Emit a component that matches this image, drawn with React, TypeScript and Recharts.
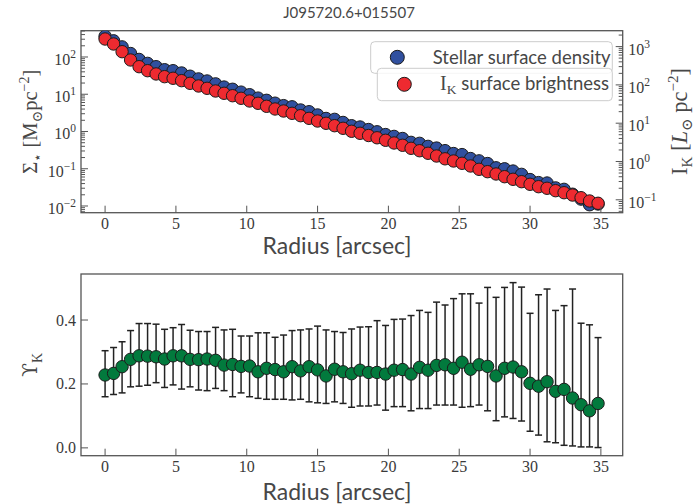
import React from 'react';
import { ScatterChart, Scatter, XAxis, YAxis, ErrorBar, Customized } from 'recharts';

// Radial samples (arcsec)
const radius = [0, 0.6, 1.2, 1.8, 2.4, 3, 3.6, 4.2, 4.8, 5.4, 6, 6.6, 7.2, 7.8, 8.4, 9, 9.6, 10.2, 10.8, 11.4, 12, 12.6, 13.2, 13.8, 14.4, 15, 15.6, 16.2, 16.8, 17.4, 18, 18.6, 19.2, 19.8, 20.4, 21, 21.6, 22.2, 22.8, 23.4, 24, 24.6, 25.2, 25.8, 26.4, 27, 27.6, 28.2, 28.8, 29.4, 30, 30.6, 31.2, 31.8, 32.4, 33, 33.6, 34.2, 34.8];

// Stellar surface density, M_sun pc^-2
const stellarDensity = [360, 272, 187, 124, 86.1, 67.4, 55.0, 45.6, 42.9, 37.2, 30.5, 25.8, 22.7, 19.0, 15.6, 13.6, 11.4, 9.73, 7.88, 6.87, 5.76, 4.95, 4.60, 3.78, 3.40, 2.78, 2.24, 2.12, 1.75, 1.43, 1.32, 1.13, 0.982, 0.827, 0.739, 0.649, 0.511, 0.481, 0.399, 0.359, 0.306, 0.256, 0.240, 0.188, 0.163, 0.138, 0.106, 0.0998, 0.0868, 0.0707, 0.0513, 0.0425, 0.0414, 0.0306, 0.0280, 0.0207, 0.0153, 0.0108, 0.0113];

// K-band surface brightness, L_sun pc^-2
const ikBrightness = [1578, 1169, 736, 447, 299, 235, 193, 164, 149, 129, 110, 93.6, 81.5, 69.3, 60.4, 52.2, 44.7, 38.0, 33.1, 27.6, 23.5, 20.8, 18.1, 15.7, 13.4, 11.4, 9.94, 8.60, 7.36, 6.15, 5.45, 4.77, 4.16, 3.58, 3.04, 2.65, 2.21, 1.91, 1.64, 1.39, 1.175, 1.03, 0.897, 0.763, 0.625, 0.542, 0.472, 0.401, 0.343, 0.297, 0.254, 0.220, 0.200, 0.173, 0.153, 0.133, 0.1135, 0.0931, 0.0811];

// Mass-to-light ratio and its lower / upper bounds
const upsilonK = [0.228, 0.233, 0.254, 0.277, 0.288, 0.287, 0.285, 0.278, 0.288, 0.288, 0.277, 0.276, 0.278, 0.274, 0.259, 0.261, 0.255, 0.256, 0.238, 0.249, 0.245, 0.238, 0.254, 0.241, 0.254, 0.244, 0.225, 0.246, 0.238, 0.232, 0.243, 0.236, 0.236, 0.231, 0.243, 0.245, 0.231, 0.252, 0.243, 0.258, 0.260, 0.249, 0.268, 0.246, 0.260, 0.255, 0.225, 0.249, 0.253, 0.238, 0.202, 0.193, 0.207, 0.177, 0.183, 0.156, 0.135, 0.116, 0.139];
const upsilonUpper = [0.304, 0.314, 0.332, 0.367, 0.389, 0.389, 0.387, 0.371, 0.376, 0.386, 0.368, 0.364, 0.364, 0.377, 0.369, 0.371, 0.350, 0.350, 0.360, 0.360, 0.346, 0.353, 0.367, 0.369, 0.372, 0.381, 0.369, 0.364, 0.361, 0.372, 0.378, 0.379, 0.398, 0.383, 0.402, 0.403, 0.414, 0.430, 0.424, 0.456, 0.447, 0.467, 0.482, 0.482, 0.453, 0.502, 0.471, 0.502, 0.517, 0.503, 0.421, 0.479, 0.497, 0.430, 0.445, 0.497, 0.390, 0.385, 0.345];
const upsilonLower = [0.160, 0.167, 0.172, 0.191, 0.193, 0.196, 0.204, 0.189, 0.197, 0.184, 0.191, 0.181, 0.179, 0.186, 0.179, 0.160, 0.172, 0.160, 0.155, 0.152, 0.152, 0.152, 0.150, 0.152, 0.144, 0.141, 0.139, 0.144, 0.139, 0.127, 0.131, 0.131, 0.134, 0.118, 0.129, 0.129, 0.116, 0.123, 0.123, 0.134, 0.134, 0.134, 0.127, 0.129, 0.134, 0.116, 0.085, 0.097, 0.092, 0.084, 0.052, 0.040, 0.019, 0.016, 0.008, 0.006, 0.003, 0.003, 0.001];

// Axis ticks
const radiusTicks = [0, 5, 10, 15, 20, 25, 30, 35];
const upsilonTicks = [0, 0.2, 0.4];
const upsilonTickLabels = ['0.0', '0.2', '0.4'];

const TITLE = 'J095720.6+015507';
const X_LABEL = 'Radius [arcsec]';

// Styling
const BLUE = '#30509f';
const RED = '#ee2a30';
const GREEN = '#027a3d';
const EDGE = '#1c1c1c';
const SPINE = '#555555';
const TEXT = '#3a3a3a';
const LABEL = '#474747';
const SERIF = "'Liberation Serif', 'DejaVu Serif', serif";
const SANS = "Lato, 'DejaVu Sans', sans-serif";

// Layout of the two panels
const W = 699;
const TOP_H = 260;
const BOT_H = 244;
const PLOT_L = 81;
const PLOT_R = 622.7;
const TOP_T = 30.7;
const TOP_B = 212.7;
const BOT_T = 14;
const BOT_B = 195.7;

const X_DOMAIN: [number, number] = [-1.7, 36.54];
const LEFT_DOMAIN: [number, number] = [Math.pow(10, -2.18), Math.pow(10, 2.706)];
const RIGHT_DOMAIN: [number, number] = [Math.pow(10, -1.337), Math.pow(10, 3.415)];
const UPS_DOMAIN: [number, number] = [-0.0245, 0.544];

function logTicks(domain: [number, number]) {
  const out: number[] = [];
  const e0 = Math.floor(Math.log10(domain[0]));
  const e1 = Math.ceil(Math.log10(domain[1]));
  for (let e = e0; e <= e1; e++) {
    for (let m = 1; m <= 9; m++) {
      const v = parseFloat((m * Math.pow(10, e)).toPrecision(6));
      if (v >= domain[0] && v <= domain[1]) out.push(v);
    }
  }
  return out;
}

const sigmaData = radius.map((r, i) => ({ r, v: stellarDensity[i] }));
const ikData = radius.map((r, i) => ({ r, v: ikBrightness[i] }));
const upsData = radius.map((r, i) => ({
  r,
  v: upsilonK[i],
  err: [upsilonK[i] - upsilonLower[i], upsilonUpper[i] - upsilonK[i]],
}));

const exponentLabel = (v: number) => {
  const e = Math.round(Math.log10(v));
  return e < 0 ? '\u2212' + Math.abs(e) : String(e);
};

const isDecade = (v: number) => Math.abs(Math.log10(v) - Math.round(Math.log10(v))) < 1e-6;

const PowerLabel = ({ x, y, anchor, v }: any) => (
  <text x={x} y={y} textAnchor={anchor} fontFamily={SERIF} fontSize={16} fill={TEXT}>
    10
    <tspan dy={-7} fontSize={11.5}>{exponentLabel(v)}</tspan>
  </text>
);

const LeftLogTick = (props: any) => {
  const { x, y, payload } = props;
  const major = isDecade(payload.value);
  return (
    <g>
      <line x1={x} y1={y} x2={x + (major ? 7 : 4)} y2={y} stroke={SPINE} strokeWidth={1} />
      {major && <PowerLabel x={x - 5} y={y + 8} anchor="end" v={payload.value} />}
    </g>
  );
};

const RightLogTick = (props: any) => {
  const { x, y, payload } = props;
  const major = isDecade(payload.value);
  return (
    <g>
      <line x1={x} y1={y} x2={x - (major ? 7 : 4)} y2={y} stroke={SPINE} strokeWidth={1} />
      {major && <PowerLabel x={x + 5.5} y={y + 8} anchor="start" v={payload.value} />}
    </g>
  );
};

const BottomTick = (props: any) => {
  const { x, y, payload } = props;
  return (
    <g>
      <line x1={x} y1={y} x2={x} y2={y - 7} stroke={SPINE} strokeWidth={1} />
      <text x={x} y={y + 16} textAnchor="middle" fontFamily={SERIF} fontSize={16} fill={TEXT}>
        {payload.value}
      </text>
    </g>
  );
};

const UpsTick = (props: any) => {
  const { x, y, payload, index } = props;
  return (
    <g>
      <line x1={x} y1={y} x2={x + 7} y2={y} stroke={SPINE} strokeWidth={1} />
      <text x={x - 5} y={y + 5.5} textAnchor="end" fontFamily={SERIF} fontSize={16} fill={TEXT}>
        {upsilonTickLabels[index] ?? payload.value}
      </text>
    </g>
  );
};

const dot = (fill: string) => (p: any) => (
  <circle cx={p.cx} cy={p.cy} r={6.2} fill={fill} stroke={EDGE} strokeWidth={1} />
);

const TopDecor = () => (
  <g>
    <rect x={PLOT_L} y={TOP_T} width={PLOT_R - PLOT_L} height={TOP_B - TOP_T} fill="none" stroke={SPINE} strokeWidth={1.3} />
    <text x={349} y={17.5} textAnchor="middle" fontFamily={SANS} fontSize={15} fill={LABEL}>{TITLE}</text>
    <text x={337} y={254} textAnchor="middle" fontFamily={SANS} fontSize={23} fill={LABEL}>{X_LABEL}</text>
    <text transform="translate(37,121.7) rotate(-90)" textAnchor="middle" fontFamily={SERIF} fontSize={20.5} fill={LABEL}>
      {'\u03A3'}
      <tspan dy={4.5} fontSize={14}>{'\u22C6'}</tspan>
      <tspan dy={-4.5}>{' [M'}</tspan>
      <tspan dy={4.5} fontSize={14}>{'\u2299'}</tspan>
      <tspan dy={-4.5}>pc</tspan>
      <tspan dy={-8} fontSize={14}>{'\u22122'}</tspan>
      <tspan dy={8}>]</tspan>
    </text>
    <text transform="translate(687,121.5) rotate(-90)" textAnchor="middle" fontFamily={SERIF} fontSize={22.5} fill={LABEL}>
      I
      <tspan dy={5} fontSize={15}>K</tspan>
      <tspan dy={-5}>{' ['}</tspan>
      <tspan fontStyle="italic">L</tspan>
      <tspan dy={5} fontSize={15}>{'\u2299'}</tspan>
      <tspan dy={-5}>{' pc'}</tspan>
      <tspan dy={-9} fontSize={15}>{'\u22122'}</tspan>
      <tspan dy={9}>]</tspan>
    </text>
    {/* legend of the left axis */}
    <rect x={370.7} y={41.7} width={241.6} height={31.6} rx={4} fill="#ffffff" fillOpacity={0.8} stroke="#cccccc" strokeWidth={1} />
    <circle cx={397.3} cy={57.3} r={7} fill={BLUE} stroke={EDGE} strokeWidth={1} />
    <text x={432.7} y={63.5} fontFamily={SANS} fontSize={18.5} fill={LABEL}>Stellar surface density</text>
    {/* legend of the right axis */}
    <rect x={377.3} y={68.3} width={235} height={32.4} rx={4} fill="#ffffff" fillOpacity={0.8} stroke="#cccccc" strokeWidth={1} />
    <circle cx={404.3} cy={84.3} r={7} fill={RED} stroke={EDGE} strokeWidth={1} />
    <text x={440} y={90} fontFamily={SERIF} fontSize={20} fill={LABEL}>
      I
      <tspan dy={3.5} fontSize={13.5}>K</tspan>
      <tspan dy={-3.5} fontFamily={SANS} fontSize={18.5}>{' surface brightness'}</tspan>
    </text>
  </g>
);

const BottomDecor = () => (
  <g>
    <rect x={PLOT_L} y={BOT_T} width={PLOT_R - PLOT_L} height={BOT_B - BOT_T} fill="none" stroke={SPINE} strokeWidth={1.3} />
    <text x={337} y={239.5} textAnchor="middle" fontFamily={SANS} fontSize={23} fill={LABEL}>{X_LABEL}</text>
    <text transform={`translate(37,${(BOT_T + BOT_B) / 2}) rotate(-90)`} textAnchor="middle" fontFamily={SERIF} fontSize={22} fill={LABEL}>
      <tspan fontFamily="'DejaVu Serif', serif" fontSize={20}>{'\u03D2'}</tspan>
      <tspan dy={5} fontSize={14}>K</tspan>
    </text>
  </g>
);

export default function App() {
  return (
    <div style={{ position: 'absolute', left: 0, top: 0, width: W, height: TOP_H + BOT_H, background: '#fff' }}>
      <div style={{ position: 'absolute', left: 0, top: 0 }}>
        <ScatterChart width={W} height={TOP_H} margin={{ top: TOP_T, right: 0, bottom: 0, left: 0 }}>
          <XAxis
            type="number"
            dataKey="r"
            domain={X_DOMAIN}
            ticks={radiusTicks}
            allowDataOverflow
            interval={0}
            height={TOP_H - TOP_B}
            axisLine={false}
            tickLine={false}
            tickSize={0}
            tickMargin={0}
            tick={<BottomTick />}
          />
          <YAxis
            yAxisId="left"
            orientation="left"
            type="number"
            dataKey="v"
            scale="log"
            domain={LEFT_DOMAIN}
            ticks={logTicks(LEFT_DOMAIN)}
            allowDataOverflow
            interval={0}
            width={PLOT_L}
            axisLine={false}
            tickLine={false}
            tickSize={0}
            tickMargin={0}
            tick={<LeftLogTick />}
          />
          <YAxis
            yAxisId="right"
            orientation="right"
            type="number"
            dataKey="v"
            scale="log"
            domain={RIGHT_DOMAIN}
            ticks={logTicks(RIGHT_DOMAIN)}
            allowDataOverflow
            interval={0}
            width={W - PLOT_R}
            axisLine={false}
            tickLine={false}
            tickSize={0}
            tickMargin={0}
            tick={<RightLogTick />}
          />
          <Scatter yAxisId="left" data={sigmaData} dataKey="v" fill={BLUE} shape={dot(BLUE)} isAnimationActive={false} />
          <Scatter yAxisId="right" data={ikData} dataKey="v" fill={RED} shape={dot(RED)} isAnimationActive={false} />
          <Customized component={<TopDecor />} />
        </ScatterChart>
      </div>
      <div style={{ position: 'absolute', left: 0, top: TOP_H }}>
        <ScatterChart width={W} height={BOT_H} margin={{ top: BOT_T, right: W - PLOT_R, bottom: 0, left: 0 }}>
          <XAxis
            type="number"
            dataKey="r"
            domain={X_DOMAIN}
            ticks={radiusTicks}
            allowDataOverflow
            interval={0}
            height={BOT_H - BOT_B}
            axisLine={false}
            tickLine={false}
            tickSize={0}
            tickMargin={0}
            tick={<BottomTick />}
          />
          <YAxis
            type="number"
            dataKey="v"
            domain={UPS_DOMAIN}
            ticks={upsilonTicks}
            allowDataOverflow
            interval={0}
            width={PLOT_L}
            axisLine={false}
            tickLine={false}
            tickSize={0}
            tickMargin={0}
            tick={<UpsTick />}
          />
          <Scatter data={upsData} dataKey="v" fill={GREEN} shape={dot(GREEN)} isAnimationActive={false}>
            <ErrorBar dataKey="err" direction="y" width={3.5} stroke="#222222" strokeWidth={1.5} />
          </Scatter>
          <Customized component={<BottomDecor />} />
        </ScatterChart>
      </div>
    </div>
  );
}
